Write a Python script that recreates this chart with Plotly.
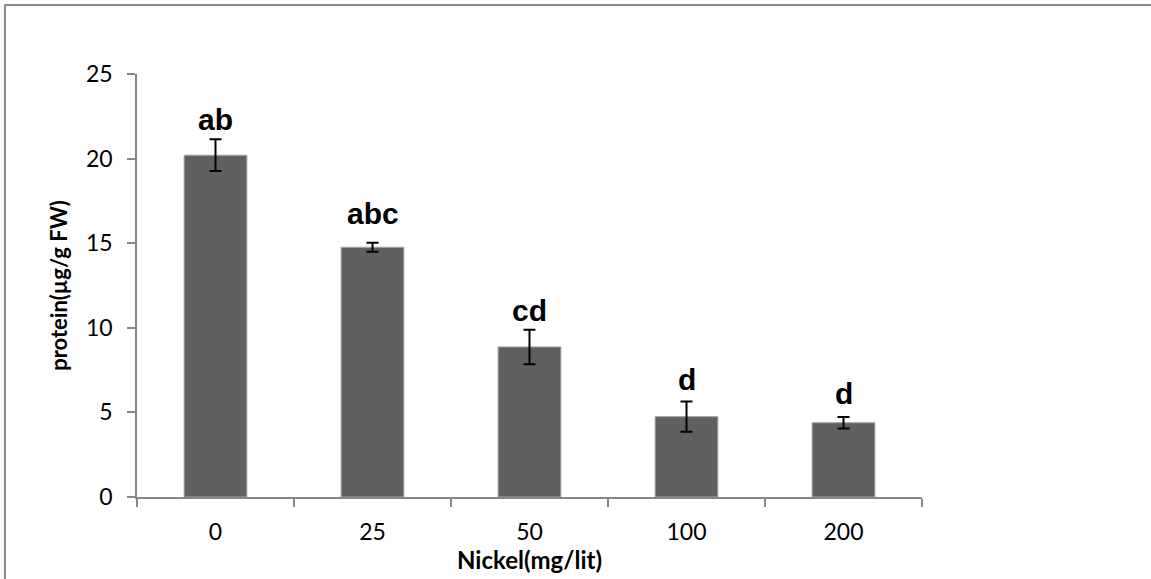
import plotly.graph_objects as go

categories = ["0", "25", "50", "100", "200"]
protein = [20.2, 14.76, 8.87, 4.75, 4.39]
errors = [0.94, 0.26, 1.02, 0.9, 0.34]
letters = ["ab", "abc", "cd", "d", "d"]
label_y = [22.3, 16.76, 11.0, 6.97, 6.1]

W, H = 1151, 579
L, R, T, B = 137, 229, 74, 82
pw, ph = W - L - R, H - T - B

fig = go.Figure()
fig.add_trace(go.Bar(
    x=categories, y=protein,
    marker=dict(color="#606060", line=dict(color="#a6a6a6", width=1)),
    error_y=dict(type="data", array=errors, visible=True,
                 color="black", thickness=2, width=6),
    width=0.4,
))

for i, (t, yy) in enumerate(zip(letters, label_y)):
    fig.add_annotation(x=i, y=yy, text="<b>%s</b>" % t, showarrow=False,
                       font=dict(family="Liberation Sans, Arial", size=30, color="black"),
                       xanchor="center", yanchor="middle")

def px2paperx(px):
    return (px - L) / pw

def px2papery(py):
    return (H - B - py) / ph

fig.add_shape(type="rect", xref="paper", yref="paper",
              x0=px2paperx(5), x1=px2paperx(1170),
              y0=px2papery(600), y1=px2papery(5),
              line=dict(color="#8c8c8c", width=2), fillcolor="rgba(0,0,0,0)", layer="below")

fig.update_layout(
    width=W, height=H,
    margin=dict(l=L, r=R, t=T, b=B, autoexpand=False),
    paper_bgcolor="white", plot_bgcolor="white",
    showlegend=False,
    font=dict(family="Lato, Open Sans, sans-serif", color="black"),
    xaxis=dict(
        type="category", tickson="boundaries", range=[-0.5, 4.5],
        categoryorder="array", categoryarray=categories,
        showline=True, linecolor="#868686", linewidth=1.5,
        ticks="outside", ticklen=8, tickcolor="#868686", tickwidth=1.5,
        tickfont=dict(size=23, family="Lato"), tickangle=0, ticklabelstandoff=14,
        title=dict(text="<b>Nickel(mg/lit)</b>", font=dict(size=24, family="Lato"), standoff=3),
        showgrid=False, zeroline=False, automargin=False,
    ),
    yaxis=dict(
        range=[0, 25], tickvals=[0, 5, 10, 15, 20, 25],
        showline=True, linecolor="#868686", linewidth=1.5,
        ticks="outside", ticklen=8, tickcolor="#868686", tickwidth=1.5,
        tickfont=dict(size=23, family="Lato"), ticklabelstandoff=10,
        title=dict(text="<b>protein(µg/g FW)</b>", font=dict(size=22, family="Lato"), standoff=12),
        showgrid=False, zeroline=False, automargin=False,
    ),
)

fig.write_html("out.html", config={"displayModeBar": False},
               post_script="document.body.style.margin='0px';")
